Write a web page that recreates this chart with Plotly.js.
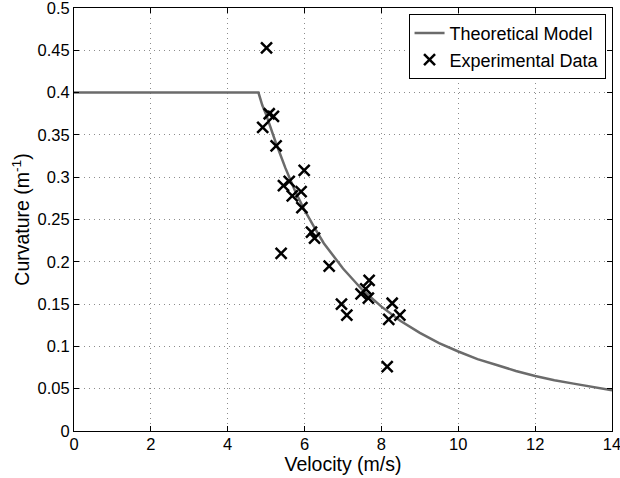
<!DOCTYPE html>
<html>
<head>
<meta charset="utf-8">
<script src="https://cdn.plot.ly/plotly-3.0.1.min.js"></script>
<style>html,body{margin:0;padding:0;background:#fff;}#chart{width:620px;height:478px;}</style>
</head>
<body>
<div id="chart"></div>
<script>
// Theoretical model curve
const modelVelocity = [0, 4.8, 4.9, 5.0, 5.25, 5.5, 5.75, 6.0, 6.25, 6.5, 7.0, 7.5, 8.0, 8.5, 9.0, 9.5, 10.0, 10.5, 11.0, 11.5, 12.0, 12.5, 13.0, 13.5, 14.0];
const modelCurvature = [0.4, 0.4, 0.385, 0.374, 0.341, 0.311, 0.284, 0.261, 0.241, 0.222, 0.192, 0.167, 0.147, 0.130, 0.116, 0.104, 0.094, 0.085, 0.078, 0.071, 0.065, 0.060, 0.056, 0.052, 0.048];

// Experimental data points
const expVelocity = [5.01, 5.08, 5.19, 4.91, 5.26, 5.99, 5.60, 5.45, 5.91, 5.68, 5.93, 6.18, 6.26, 5.39, 6.64, 7.68, 7.47, 7.59, 7.66, 6.96, 7.10, 8.28, 8.19, 8.48, 8.15];
const expCurvature = [0.453, 0.375, 0.372, 0.359, 0.337, 0.308, 0.295, 0.290, 0.283, 0.278, 0.264, 0.235, 0.228, 0.210, 0.195, 0.178, 0.162, 0.168, 0.157, 0.150, 0.137, 0.151, 0.132, 0.137, 0.076];

const xTicks = [0, 2, 4, 6, 8, 10, 12, 14];
const yTicks = [0, 0.05, 0.1, 0.15, 0.2, 0.25, 0.3, 0.35, 0.4, 0.45, 0.5];
const yTickText = ['0', '0.05', '0.1', '0.15', '0.2', '0.25', '0.3', '0.35', '0.4', '0.45', '0.5'];

const FAMILY = '"Liberation Sans", Arial, Helvetica, sans-serif';
function f(size) { return {family: FAMILY, size: size, color: '#000'}; }

const traces = [
  {
    x: modelVelocity, y: modelCurvature, type: 'scatter', mode: 'lines',
    name: 'Theoretical Model',
    line: {color: '#6b6b6b', width: 2.5}
  },
  {
    x: expVelocity, y: expCurvature, type: 'scatter', mode: 'markers',
    name: 'Experimental Data',
    marker: {symbol: 'x-thin', size: 11, color: '#000', line: {color: '#000', width: 2.5}}
  }
];

const axisCommon = {
  showline: true, mirror: 'ticks', linecolor: '#000', linewidth: 1,
  ticks: 'inside', ticklen: 5, tickcolor: '#000',
  showgrid: true, gridcolor: '#8c8c8c', griddash: '1px,4px', gridwidth: 1,
  zeroline: false, ticklabeloverflow: 'allow',
  tickfont: f(16.5)
};

const layout = {
  width: 620, height: 478,
  margin: {l: 74, r: 8, t: 8, b: 47},
  paper_bgcolor: '#fff', plot_bgcolor: '#fff',
  showlegend: true,
  legend: {
    x: 0.988, y: 0.986, xanchor: 'right', yanchor: 'top',
    bgcolor: '#fff', bordercolor: '#000', borderwidth: 1,
    font: f(18),
    tracegroupgap: 0, itemwidth: 30
  },
  xaxis: Object.assign({}, axisCommon, {
    range: [0, 14], tickvals: xTicks, ticktext: xTicks.map(String),
    ticklabelstandoff: -2,
    title: {text: 'Velocity (m/s)', font: f(19.5), standoff: 0}
  }),
  yaxis: Object.assign({}, axisCommon, {
    range: [0, 0.5], tickvals: yTicks, ticktext: yTickText,
    title: {text: 'Curvature (m<sup>-1</sup>)', font: f(19.5), standoff: 2}
  })
};

Plotly.newPlot('chart', traces, layout, {displayModeBar: false, staticPlot: true});
</script>
</body>
</html>
